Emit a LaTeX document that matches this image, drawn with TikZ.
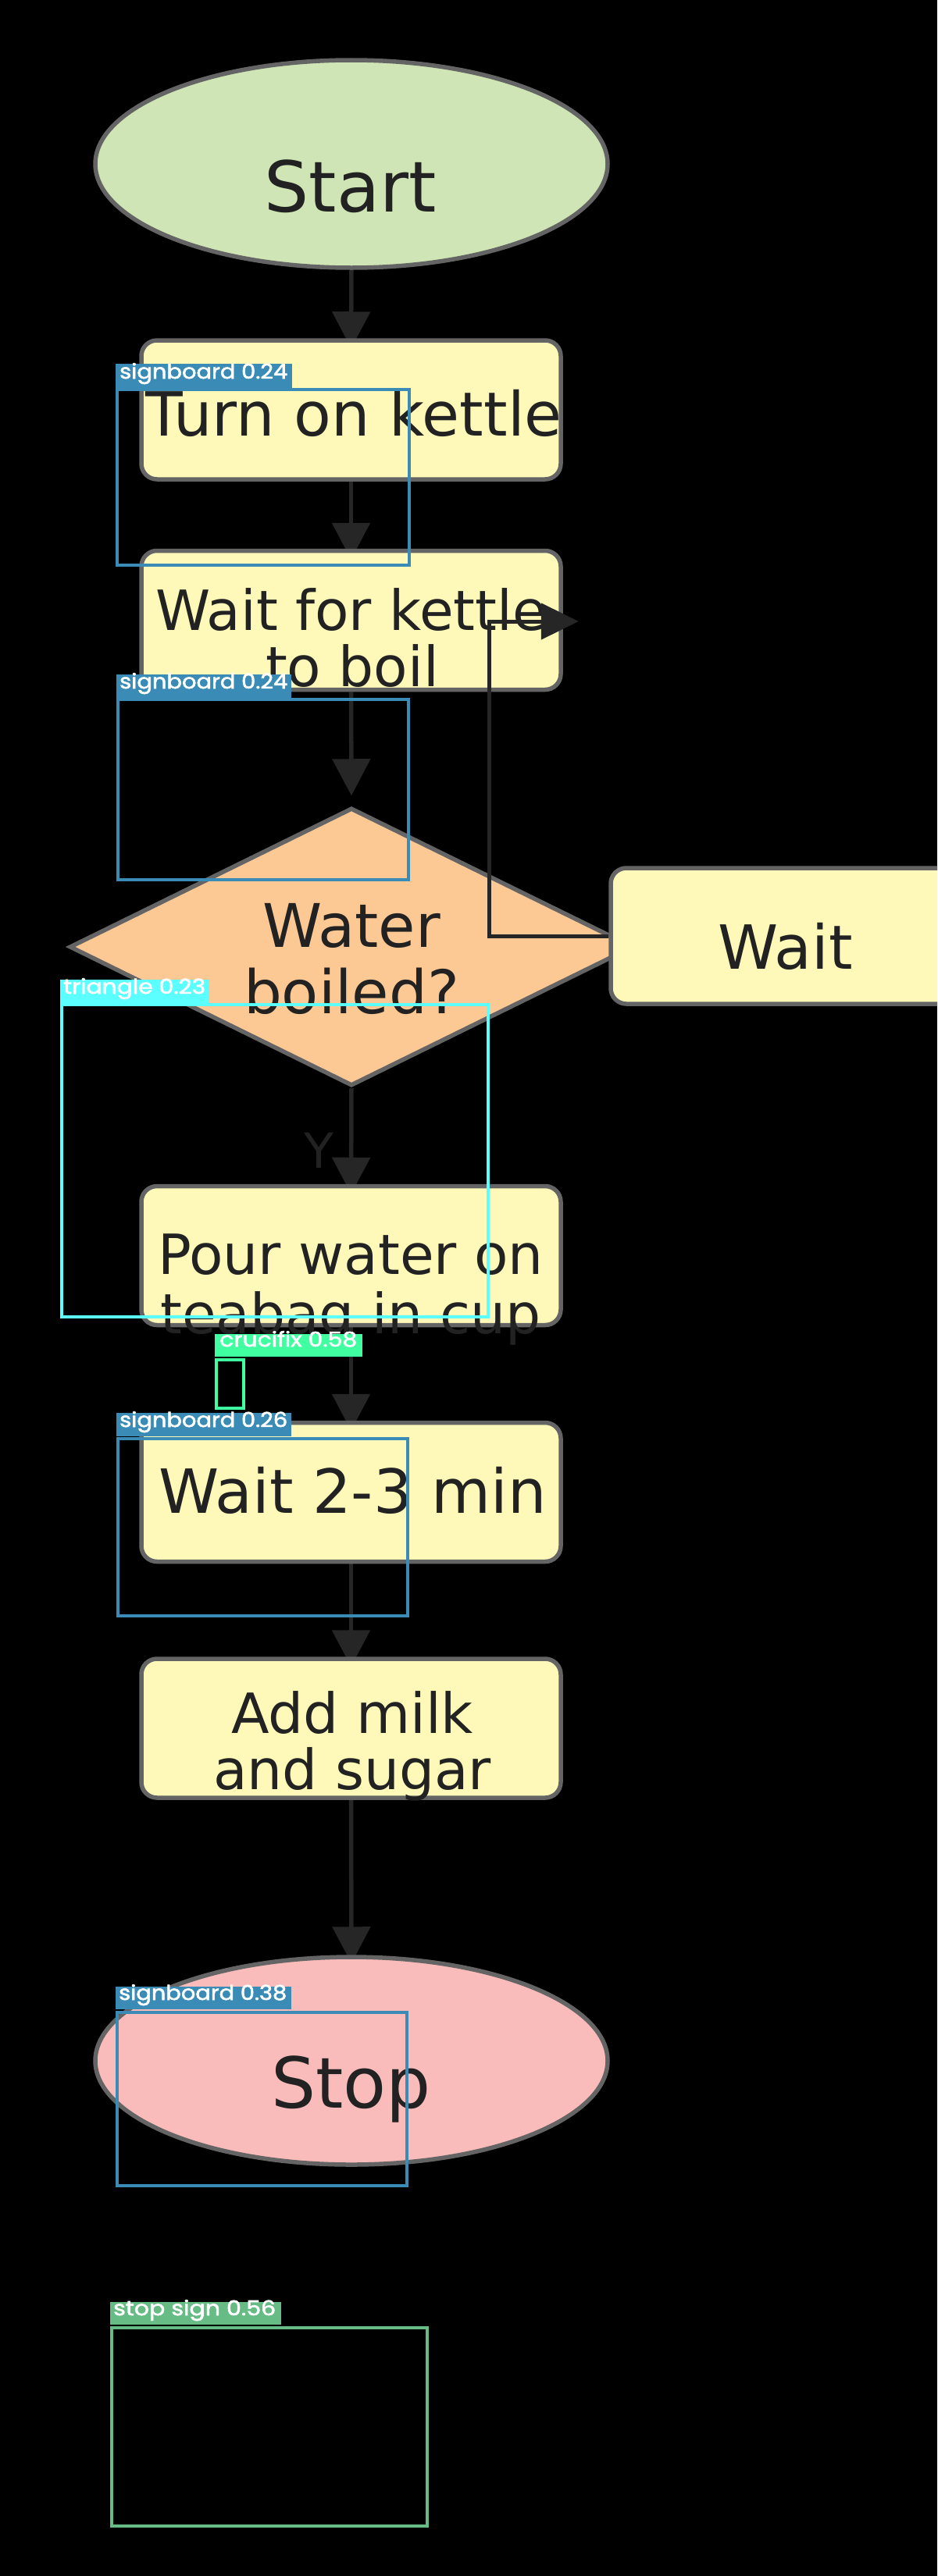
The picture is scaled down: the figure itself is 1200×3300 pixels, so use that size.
\documentclass[tikz,border=0pt]{standalone}
\usepackage{fontspec}
\usepackage{graphicx}
\setmainfont{DejaVu Sans}
\newfontfamily\lblfont{Poppins}[FakeBold=2]
\usetikzlibrary{shapes.geometric,arrows.meta,calc}
\pgfdeclarelayer{back}
\pgfdeclarelayer{bg}
\pgfsetlayers{back,bg,main}
\definecolor{startfill}{HTML}{CFE5B5}
\definecolor{boxfill}{HTML}{FEF9B9}
\definecolor{decfill}{HTML}{FCC894}
\definecolor{stopfill}{HTML}{FABBBB}
\definecolor{edgegray}{HTML}{646464}
\definecolor{ink}{HTML}{222222}
\definecolor{arr}{HTML}{262626}
\definecolor{sbblue}{HTML}{3A8BB6}
\definecolor{tricyan}{HTML}{5CFFFF}
\definecolor{crugreen}{HTML}{3FFFA1}
\definecolor{stopgreen}{HTML}{67BC86}
\tikzset{
  term/.style={ellipse, draw=edgegray, line width=5.5pt, minimum width=656pt, minimum height=266pt, inner sep=0pt},
  proc/.style={rectangle, rounded corners=20pt, draw=edgegray, fill=boxfill, line width=5.5pt, minimum width=537pt, minimum height=178pt, inner sep=0pt},
  dec/.style={diamond, draw=edgegray, fill=decfill, line width=5.5pt, minimum width=722pt, minimum height=356pt, inner sep=0pt},
  txt/.style={text=ink, inner sep=0pt, anchor=base},
  big/.style={font=\fontsize{90}{90}\selectfont},
  mid/.style={font=\fontsize{78}{78}\selectfont},
  sml/.style={font=\fontsize{71}{71}\selectfont},
  flow/.style={draw=arr, line width=5.5pt, -{Triangle[width=48pt,length=47pt]}},
  loopar/.style={draw=arr, line width=5pt, -{Triangle[width=46pt,length=48pt]}},
  det/.style={line width=4pt},
  lbl/.style={text=white, inner sep=0pt, anchor=base west, font=\lblfont\fontsize{26}{26}\selectfont},
}
\begin{document}
\begin{tikzpicture}[x=1pt,y=-1pt]
\useasboundingbox (0,0) rectangle (1200,3300);
\clip (0,0) rectangle (1200,3300);
\begin{pgfonlayer}{back}
\fill[black] (0,0) rectangle (1200,3300);
\end{pgfonlayer}

% shapes
\node[term, fill=startfill] (start) at (450,210) {};
\node[proc] (b1) at (449.5,525) {};
\node[proc] (b2) at (449.5,794.5) {};
\node[dec] (dec) at (450,1213) {};
\node[proc, minimum width=448pt, minimum height=174pt] (wait) at (1006,1199) {};
\node[proc] (b3) at (449.5,1608.5) {};
\node[proc] (b4) at (449.5,1911.5) {};
\node[proc] (b5) at (449.5,2214) {};
\node[term, fill=stopfill] (stop) at (450,2640) {};

% texts
\node[txt, big] (tstart) at (448.5,271) {Start};
\node[txt, mid] (t1) at (453,558) {Turn on kettle};
\node[txt, sml] (t2a) at (449.5,807) {Wait for kettle};
\node[txt, sml] (t2b) at (451,879) {to boil};
\node[txt, font=\fontsize{77}{77}\selectfont] (tda) at (450,1213) {Water};
\node[txt, font=\fontsize{77}{77}\selectfont] (tdb) at (450,1298) {boiled?};
\node[txt, mid] (tw) at (1005.5,1241) {Wait};
\node[txt, font=\fontsize{62}{62}\selectfont] (ylab) at (408,1496) {Y};
\node[txt, sml] (t3a) at (449,1632) {Pour water on};
\node[txt, sml] (t3b) at (449,1708) {teabag in cup};
\node[txt, mid] (t4) at (451.5,1938) {Wait 2-3 min};
\node[txt, sml] (t5a) at (451,2220.5) {Add milk};
\node[txt, sml] (t5b) at (451,2292) {and sugar};
\node[txt, big] (tstop) at (449.5,2700) {Stop};

% connectors behind the shapes
\begin{pgfonlayer}{bg}
\draw[flow] (start.south) -- ($(b1.north)+(0,13)$);
\draw[flow] (b1.south) -- ($(b2.north)+(0,14)$);
\draw[flow] (b2.south) -- ($(dec.north)+(0,-13)$);
\draw[flow] (dec.south) -- ($(b3.north)+(0,13)$);
\draw[flow] (b3.south) -- ($(b4.north)+(0,13)$);
\draw[flow] (b4.south) -- ($(b5.north)+(0,13)$);
\draw[flow] (b5.south) -- ($(stop.north)+(0,11)$);
\end{pgfonlayer}

% loop connector
\draw[loopar] (wait.west) -- ++(-153,0) |- ($(b2.east)+(20,1.5)$);

% detection overlays
\draw[det, sbblue] (150,499) rectangle (524,724);
\fill[sbblue] (148,466) rectangle (374,497);
\node[lbl] (l1) at (153,485) {\resizebox{215pt}{20pt}{signboard 0.24}};

\draw[det, sbblue] (151,896) rectangle (523,1127);
\fill[sbblue] (149,864) rectangle (373,894);
\node[lbl] (l2) at (153,882) {\resizebox{215pt}{20pt}{signboard 0.24}};

\draw[det, tricyan] (79,1287) rectangle (625,1687);
\fill[tricyan] (77,1255) rectangle (268,1285);
\node[lbl] (l3) at (81,1273) {\resizebox{182pt}{20pt}{triangle 0.23}};

\draw[det, crugreen] (277,1742) rectangle (312,1804);
\fill[crugreen] (275,1709) rectangle (464,1738);
\node[lbl] (l4) at (281,1725) {\resizebox{176pt}{20pt}{crucifix 0.58}};

\draw[det, sbblue] (151,1843) rectangle (522,2070);
\fill[sbblue] (149,1810) rectangle (373,1840);
\node[lbl] (l5) at (153,1828) {\resizebox{215pt}{20pt}{signboard 0.26}};

\draw[det, sbblue] (150,2578) rectangle (521,2800);
\fill[sbblue] (148,2545) rectangle (373,2574);
\node[lbl] (l6) at (152,2562) {\resizebox{215pt}{20pt}{signboard 0.38}};

\draw[det, stopgreen] (143,2982) rectangle (547,3236);
\fill[stopgreen] (141,2949) rectangle (360,2978);
\node[lbl] (l7) at (145,2966) {\resizebox{208pt}{20pt}{stop sign 0.56}};
\end{tikzpicture}
\end{document}
